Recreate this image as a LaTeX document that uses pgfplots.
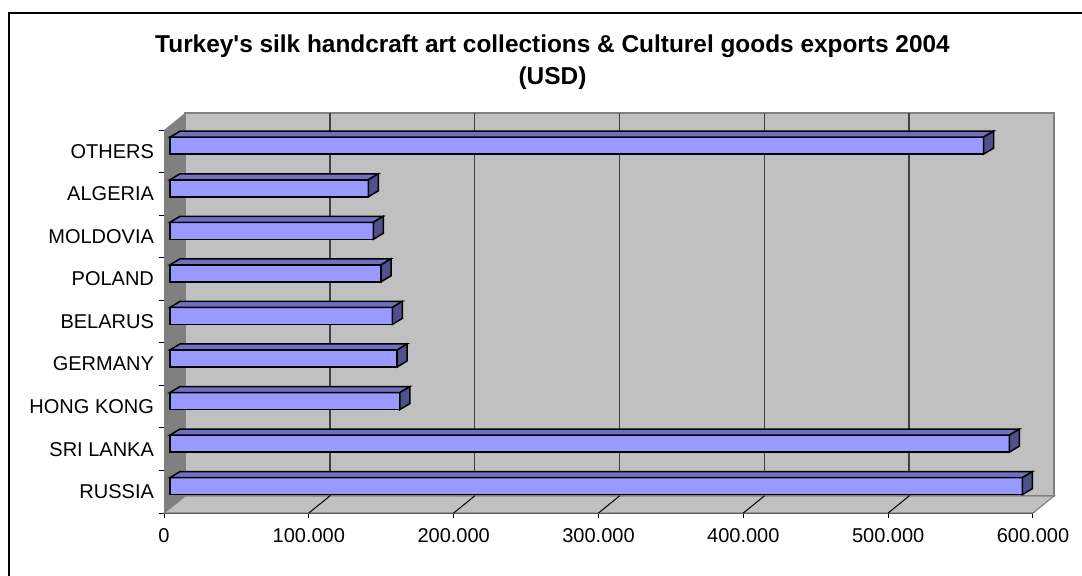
\documentclass[border=0pt]{standalone}
\usepackage{pgfplots}
\pgfplotsset{compat=1.18}
\usepackage{pgfplotstable}
\usepackage{fontspec}
\setmainfont{Liberation Sans}
\definecolor{wallback}{HTML}{C0C0C0}
\definecolor{wallside}{HTML}{808080}
\definecolor{barfront}{HTML}{9999FF}
\definecolor{bartop}{HTML}{7070C0}
\definecolor{barside}{HTML}{50508C}
\definecolor{gridc}{HTML}{404040}

\pgfplotstableread{
pos v
0 588.6
1 579.6
2 158.8
3 156.8
4 153.5
5 145.7
6 140.4
7 137.0
8 561.7
}\datatable

% 3D top and side faces of a bar, drawn at the bar's end point
\pgfdeclareplotmark{bartopside}{%
  \pgfsetlinewidth{0.75pt}%
  \pgfsetstrokecolor{black}%
  \pgfsetfillcolor{bartop}%
  \pgfpathmoveto{\pgfpoint{3pt-\barlen*1pt}{7.05pt}}%
  \pgfpathlineto{\pgfpoint{3pt}{7.05pt}}%
  \pgfpathlineto{\pgfpoint{8pt}{10.05pt}}%
  \pgfpathlineto{\pgfpoint{8pt-\barlen*1pt}{10.05pt}}%
  \pgfpathclose
  \pgfusepath{fill,stroke}%
  \pgfsetfillcolor{barside}%
  \pgfpathmoveto{\pgfpoint{3pt}{-1.45pt}}%
  \pgfpathlineto{\pgfpoint{3pt}{7.05pt}}%
  \pgfpathlineto{\pgfpoint{8pt}{10.05pt}}%
  \pgfpathlineto{\pgfpoint{8pt}{1.55pt}}%
  \pgfpathclose
  \pgfusepath{fill,stroke}%
}

\begin{document}
\begin{tikzpicture}
\useasboundingbox (0,0) rectangle (541pt,287.5pt);
\draw[line width=1.1pt] (4.5pt,-5pt) -- (4.5pt,281pt) -- (560pt,281pt);
\node[font=\bfseries\fontsize{12.2}{14}\selectfont, anchor=base] at (276.25pt,261.5pt)
  {Turkey\textquotesingle s silk handcraft art collections \& Culturel goods exports 2004};
\node[font=\bfseries\fontsize{12.2}{14}\selectfont, anchor=base] at (276.25pt,245.5pt) {(USD)};
\begin{axis}[
  at={(82pt,31pt)}, anchor=south west,
  scale only axis, width=434.5pt, height=191.5pt,
  xmin=0, xmax=600, ymin=-0.5, ymax=8.5,
  clip=false,
  axis x line*=bottom, axis y line*=left,
  axis line style={black, line width=0.5pt},
  tick align=outside,
  major tick length=2.5pt, minor tick length=2.5pt,
  xtick={0,100,...,600},
  xticklabels={0,100.000,200.000,300.000,400.000,500.000,600.000},
  ytick={0,...,8},
  yticklabels={RUSSIA,SRI LANKA,HONG KONG,GERMANY,BELARUS,POLAND,MOLDOVIA,ALGERIA,OTHERS},
  minor ytick={-0.5,0.5,...,8.5},
  major y tick style={draw=none},
  minor y tick style={black, line width=0.5pt},
  major x tick style={black, line width=0.5pt},
  ticklabel style={font=\fontsize{10}{12}\selectfont},
  yticklabel style={xshift=1pt},
  xticklabel style={yshift=-1.5pt},
  /pgf/number format/assume math mode=true,
]
% walls (3D depth shift 10.5pt, 8.5pt)
\fill[wallback, draw=wallside, line width=0.8pt]
  ([shift={(10.5pt,8.5pt)}]axis cs:0,-0.5) rectangle ([shift={(10.5pt,8.5pt)}]axis cs:600,8.5);
\fill[wallside] (axis cs:0,-0.5) -- (axis cs:0,8.5) -- ([shift={(10.5pt,8.5pt)}]axis cs:0,8.5)
  -- ([shift={(10.5pt,8.5pt)}]axis cs:0,-0.5) -- cycle;
\fill[wallback, draw=wallside, line width=0.6pt] (axis cs:0,-0.5) -- (axis cs:600,-0.5)
  -- ([shift={(10.5pt,8.5pt)}]axis cs:600,-0.5) -- ([shift={(10.5pt,8.5pt)}]axis cs:0,-0.5) -- cycle;
\pgfplotsinvokeforeach{100,200,300,400,500}{
  \draw[gridc, line width=0.7pt] ([shift={(10.5pt,8.5pt)}]axis cs:#1,-0.5) -- ([shift={(10.5pt,8.5pt)}]axis cs:#1,8.5);
  \draw[black, line width=0.5pt] (axis cs:#1,-0.5) -- ([shift={(10.5pt,8.5pt)}]axis cs:#1,-0.5);
}
% bars: front faces
\addplot[xbar, bar width=8.5pt, bar shift=2.8pt, xshift=3pt,
  fill=barfront, draw=black, line width=0.75pt] table[x=v, y=pos] {\datatable};
% bars: top and side faces
\addplot[scatter, only marks, mark=bartopside,
  visualization depends on={\thisrow{v}*0.724167 \as \barlen}]
  table[x=v, y=pos] {\datatable};
\end{axis}
\end{tikzpicture}
\end{document}
